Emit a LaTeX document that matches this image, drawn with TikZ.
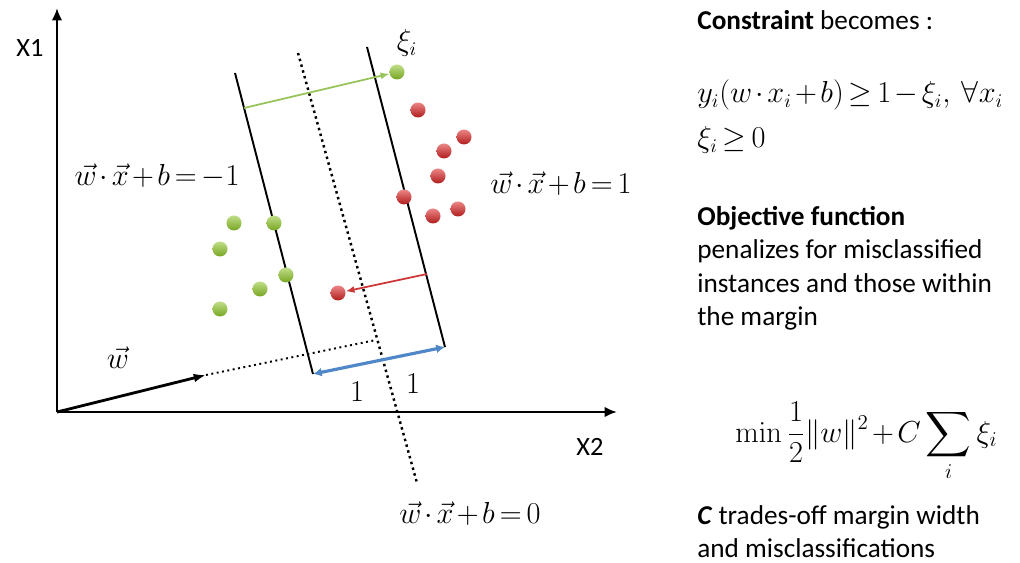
\documentclass[tikz,border=0pt]{standalone}
\usepackage[no-math]{fontspec}
\setmainfont{Carlito}
\usepackage{amsmath,amssymb}
\usetikzlibrary{arrows.meta,calc}
\definecolor{PtGreen}{RGB}{140,195,40}
\definecolor{PtRed}{RGB}{220,35,35}
\definecolor{SlackGreen}{RGB}{150,195,90}
\definecolor{SlackRed}{RGB}{205,55,55}
\definecolor{MarginBlue}{RGB}{80,135,200}
\newcommand{\tightmath}{\medmuskip=2mu\relax\thickmuskip=3mu\relax}
\newcommand{\wx}{\tightmath\vec{w}\cdot\vec{x}+b}

\begin{document}
\begin{tikzpicture}[x=0.02cm,y=-0.02cm,
	axis/.style={draw,line width=1.6pt,-{Latex[length=7pt,width=6pt]}},
	hplane/.style={draw,line width=1.1pt},
	midplane/.style={draw,line width=1.4pt,dotted},
	ball/.style={circle,inner sep=0pt,minimum size=15*0.02cm,shading=axis},
	gpt/.style={ball,top color=PtGreen!55!white,bottom color=PtGreen!85!black},
	rpt/.style={ball,top color=PtRed!55!white,bottom color=PtRed!80!black},
	lbl/.style={font=\fontsize{15}{18}\selectfont},
	eq/.style={font=\fontsize{16}{19}\selectfont},
	txt/.style={font=\fontsize{15.5}{19}\selectfont,align=left,anchor=north west,inner sep=0pt}]
\useasboundingbox (0,0) rectangle (1020,563);
% axes
\coordinate (O) at (57,412);
\coordinate (ytop) at (57,8);
\coordinate (xend) at (617,412);
\draw[axis] (O) -- (ytop);
\draw[axis] (O) -- (xend);
\node[lbl] (x1) at (30,48) {X1};
\node[lbl] (x2) at (590,447) {X2};
% margin lines and separating hyperplane
\coordinate (ltop) at (235,73);
\coordinate (lbot) at (313,374);
\coordinate (rtop) at (367,47);
\coordinate (rbot) at (445,347);
\coordinate (ctop) at (298,53);
\coordinate (cbot) at (417,483);
\draw[hplane] (ltop) -- (lbot);
\draw[hplane] (rtop) -- (rbot);
\draw[midplane] (ctop) -- (cbot);
% normal vector w
\coordinate (wtip) at (206,375);
\coordinate (wmid) at (376,340);
\draw[line width=1.6pt,-{Latex[length=7pt,width=5pt]}] (O) -- (wtip);
\draw[line width=1.1pt,dotted] (wtip) -- (wmid);
\node[eq] (wlbl) at (118,358) {$\vec{w}$};
% margin width
\draw[MarginBlue,line width=1.8pt,{Latex[length=5pt,width=5pt]}-{Latex[length=5pt,width=5pt]}] (lbot) -- (rbot);
\node[eq] (one1) at (357,392) {$1$};
\node[eq] (one2) at (413,384) {$1$};
% green class
\node[gpt] (g1) at (234,223) {};
\node[gpt] (g2) at (274,223) {};
\node[gpt] (g3) at (220,249) {};
\node[gpt] (g4) at (286,275) {};
\node[gpt] (g5) at (260,289) {};
\node[gpt] (g6) at (220,309) {};
\node[gpt] (gx) at (397,72) {};
% red class
\node[rpt] (r1) at (418,110) {};
\node[rpt] (r2) at (464,137) {};
\node[rpt] (r3) at (444,151) {};
\node[rpt] (r4) at (438,176) {};
\node[rpt] (r5) at (404,197) {};
\node[rpt] (r6) at (433,216) {};
\node[rpt] (r7) at (458,209) {};
\node[rpt] (rx) at (338,293) {};
% slack arrows
\coordinate (gs) at (244,108);
\coordinate (rs) at (427,274);
\draw[SlackGreen,line width=1pt,-{Latex[length=5pt,width=4pt]}] (gs) -- (gx);
\draw[SlackRed,line width=1pt,-{Latex[length=5pt,width=4pt]}] (rs) -- (rx);
\node[eq] (xi) at (407,43) {$\xi_i$};
% plane labels
\node[eq] (neg) at (157,176) {$\wx=-1$};
\node[eq] (pos) at (561,184) {$\wx=1$};
\node[eq] (zero) at (470,514) {$\wx=0$};
% right column
\node[txt] (cons) at (697,10) {\textbf{Constraint} becomes :};
\node[eq,anchor=base west,inner sep=0pt] (ineq1) at (697,103) {$\tightmath y_i(w\cdot x_i+b)\geq 1-\xi_i,\ \forall x_i$};
\node[eq,anchor=base west,inner sep=0pt] (ineq2) at (697,148) {$\tightmath\xi_i\geq 0$};
\node[txt] (obj) at (697,206) {\textbf{Objective function}\\penalizes for misclassified\\instances and those within\\the margin};
\node[anchor=base west,inner sep=0pt,font=\fontsize{18}{21}\selectfont] (minf) at (735,442) {$\displaystyle\tightmath\min\frac{1}{2}\|w\|^2+C\sum_i\xi_i$};
\node[txt] (ctrade) at (697,505) {\textbf{\textit{C}} trades-off margin width\\and misclassifications};
\end{tikzpicture}
\end{document}
